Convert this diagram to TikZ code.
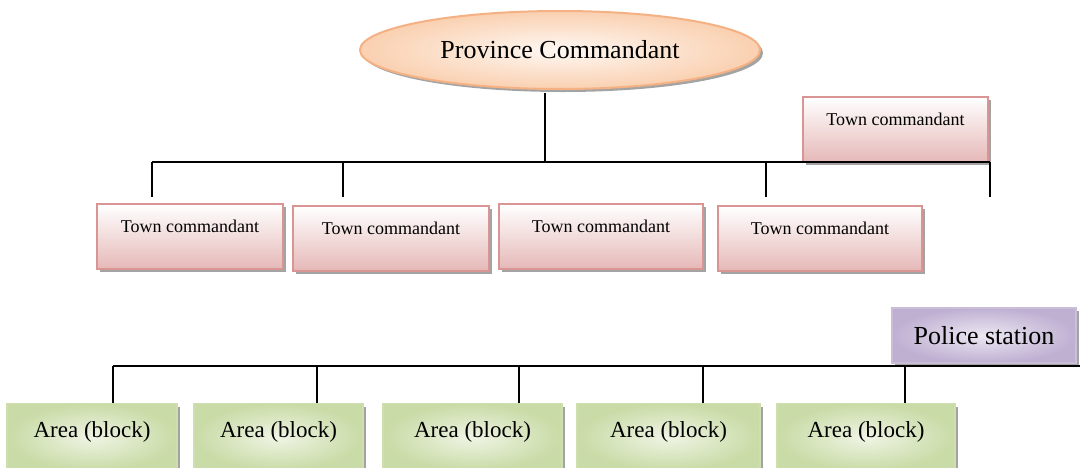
\documentclass[tikz,border=0pt]{standalone}
\usepackage{fontspec}
\setmainfont{Liberation Serif}
\usetikzlibrary{shapes.geometric,shadows}

\definecolor{pinkline}{HTML}{D99594}
\definecolor{pinkfill}{HTML}{E5B8B7}
\definecolor{peachline}{HTML}{F4B183}
\definecolor{peachfill}{HTML}{FAD0B0}
\definecolor{lavline}{HTML}{B2A1C7}
\definecolor{lavfill}{HTML}{BFB0D2}
\definecolor{greenline}{HTML}{C2D69B}
\definecolor{greenfill}{HTML}{C9DBA6}

\begin{document}
\begin{tikzpicture}[x=0.5pt,y=-0.5pt,line width=1pt,
	boxshadow/.style={drop shadow={shadow xshift=1.5pt,shadow yshift=-1.5pt,fill=black!45,opacity=.8}},
	chief/.style={ellipse,draw=peachline,line width=1pt,inner color=white!85!peachfill,outer color=peachfill,
		minimum width=200pt,minimum height=39pt,font=\fontsize{13}{15}\selectfont,boxshadow},
	townbox/.style={rectangle,draw=pinkline,line width=1.2pt,top color=white,bottom color=pinkfill,
		inner sep=0pt,text height=14pt,text depth=18.5pt,font=\fontsize{9}{11}\selectfont,boxshadow},
	stationbox/.style={rectangle,draw=lavline!70,line width=.6pt,inner color=lavfill!30,outer color=lavfill,
		minimum width=92pt,minimum height=27.5pt,font=\fontsize{13}{15}\selectfont,boxshadow},
	areabox/.style={rectangle,draw=greenline!80,line width=.6pt,inner color=greenfill!30,outer color=greenfill,
		inner sep=0pt,text height=17pt,text depth=16.5pt,font=\fontsize{11.5}{13}\selectfont,boxshadow}]

\clip (0,0) rectangle (1080,467);

\node[chief]   (pc) at (560,50)      {Province Commandant};

\node[townbox,minimum width=92.5pt]   (tc0) at (895.5,96) [anchor=north]   {Town commandant};
\node[townbox,minimum width=93pt]   (tc1) at (190,203) [anchor=north]   {Town commandant};
	\node[townbox,minimum width=98pt]   (tc2) at (391,205) [anchor=north]   {Town commandant};
	\node[townbox,minimum width=102pt]   (tc3) at (601,203) [anchor=north]   {Town commandant};
	\node[townbox,minimum width=102pt]   (tc4) at (820,205) [anchor=north]   {Town commandant};

\node[stationbox]   (ps) at (984,335.5)      {Police station};

\node[areabox,minimum width=85pt]   (ab1) at (92,403) [anchor=north]   {Area (block)};
	\node[areabox,minimum width=84.5pt]   (ab2) at (278.5,403) [anchor=north]   {Area (block)};
	\node[areabox,minimum width=89.5pt]   (ab3) at (472.5,403) [anchor=north]   {Area (block)};
	\node[areabox,minimum width=91.5pt]   (ab4) at (668.5,403) [anchor=north]   {Area (block)};
	\node[areabox,minimum width=89pt]   (ab5) at (866,403) [anchor=north]   {Area (block)};

% town level bus
\coordinate (pcfoot) at (545,93);
\coordinate (busmid) at (545,162);
\foreach \x/\n in {152/1,343/2,766/3,990/4}{
	\coordinate (tbus\n) at (\x,162);
	\coordinate (tdrop\n) at (\x,197);
}
\draw (pcfoot) -- (busmid);
\draw (tbus1) -- (tbus4);
\foreach \n in {1,...,4}
	\draw (tbus\n) -- (tdrop\n);

% area level bus
\coordinate (psend) at (1080,366);
\foreach \x/\n in {113/1,317/2,519/3,703/4,905/5}
	\coordinate (abus\n) at (\x,366);
\draw (abus1) -- (psend);
\foreach \n in {1,...,5}
	\draw (abus\n) -- (abus\n |- ab\n.north);

\end{tikzpicture}
\end{document}
